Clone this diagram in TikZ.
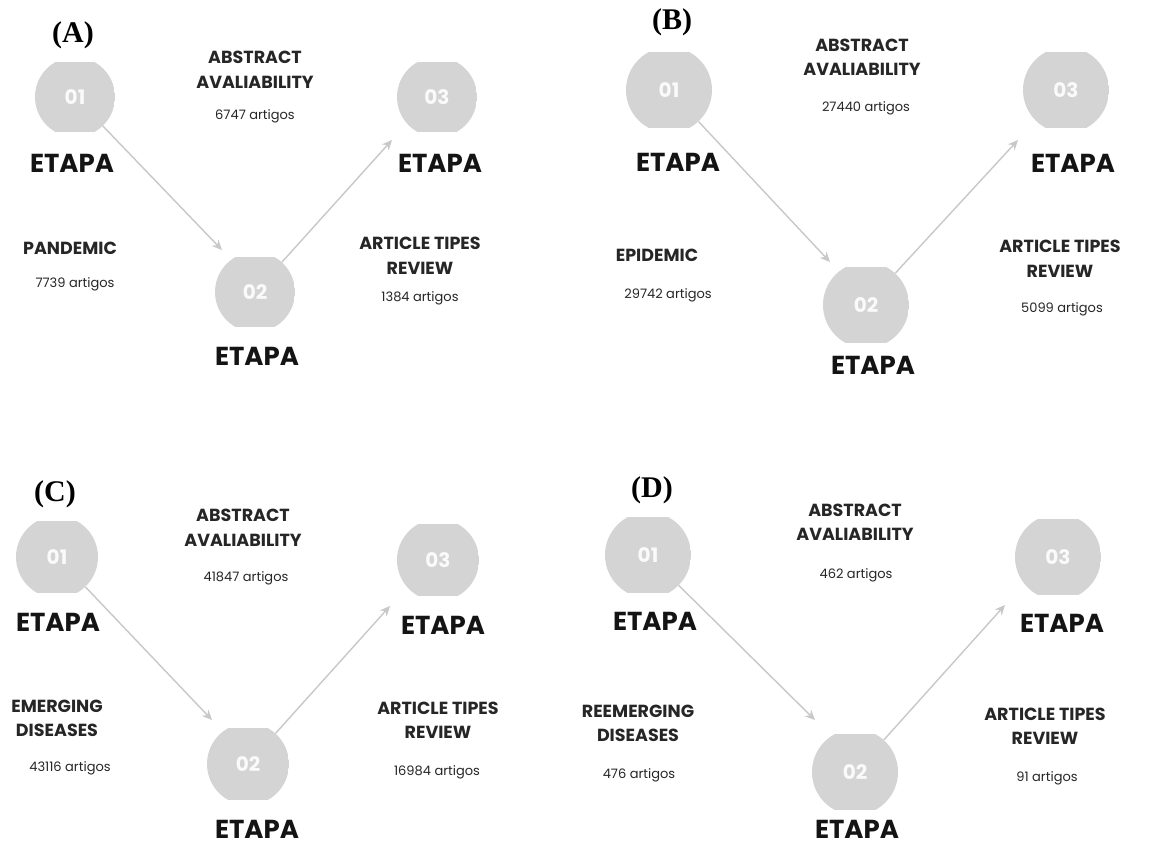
\documentclass[tikz,border=0pt]{standalone}
\usepackage{fontspec}
\setmainfont{Poppins}
\newfontfamily\serifb{Liberation Serif}
\usetikzlibrary{arrows.meta,calc}
\definecolor{stagegray}{RGB}{212,212,212}
\definecolor{arrowgray}{RGB}{200,200,200}
\tikzset{
 stage/.style={circle, minimum size=#1, inner sep=0pt, text=white!96!gray,
   font=\bfseries\fontsize{20}{22}\selectfont,
   path picture={\fill[stagegray] ($(path picture bounding box.south west)!0.06!(path picture bounding box.north west)$) rectangle ($(path picture bounding box.north east)!0.06!(path picture bounding box.south east)$);}},
 etapa/.style={font=\bfseries\fontsize{26}{28}\selectfont, text=black!92},
 head/.style={font=\bfseries\fontsize{17.5}{24.5}\selectfont, align=center, text=black!85},
 count/.style={font=\fontsize{13}{15}\selectfont, text=black!85},
 plabel/.style={font=\serifb\bfseries\fontsize{30}{32}\selectfont},
 flow/.style={draw=arrowgray, line width=1.4pt, -{Stealth[length=10pt,width=9pt]}},
}
\begin{document}
\begin{tikzpicture}[x=1pt,y=-1pt]
\fill[white] (0,0) rectangle (1153,847);
\useasboundingbox (0,0) rectangle (1153,847);
% Panel A
\node[plabel] (Alab) at (73,35) {(A)};
\node[stage=80pt] (A1) at (75,97) {01};
\node[stage=80pt] (A2) at (255,292) {02};
\node[stage=80pt] (A3) at (437,97) {03};
\node[etapa] (AE1) at (72,163) {ETAPA};
\node[etapa] (AE2) at (257,356) {ETAPA};
\node[etapa] (AE3) at (440,163) {ETAPA};
\node[head] (Atop) at (255,70) {ABSTRACT\\AVALIABILITY};
\node[count] (Atopn) at (255,116) {6747 artigos};
\node[head] (Aleft) at (70,248) {PANDEMIC};
\node[count] (Aleftn) at (75,284) {7739 artigos};
\node[head] (Aright) at (420,256) {ARTICLE TIPES\\REVIEW};
\node[count] (Arightn) at (420,298) {1384 artigos};
\coordinate (A12) at (222,250);
\coordinate (A23) at (392,140);
\draw[flow] (A1) -- (A12);
\draw[flow] (A2) -- (A23);
% Panel B
\node[plabel] (Blab) at (672,22) {(B)};
\node[stage=86pt] (B1) at (669,90) {01};
\node[stage=86pt] (B2) at (866,305) {02};
\node[stage=86pt] (B3) at (1066,90) {03};
\node[etapa] (BE1) at (678,162) {ETAPA};
\node[etapa] (BE2) at (873,365) {ETAPA};
\node[etapa] (BE3) at (1073,163) {ETAPA};
\node[head] (Btop) at (862,57.5) {ABSTRACT\\AVALIABILITY};
\node[count] (Btopn) at (866,108) {27440 artigos};
\node[head] (Bleft) at (657,255) {EPIDEMIC};
\node[count] (Bleftn) at (668,295) {29742 artigos};
\node[head] (Bright) at (1060,259) {ARTICLE TIPES\\REVIEW};
\node[count] (Brightn) at (1062,309) {5099 artigos};
\coordinate (B12) at (830,262);
\coordinate (B23) at (1018,140);
\draw[flow] (B1) -- (B12);
\draw[flow] (B2) -- (B23);
% Panel C
\node[plabel] (Clab) at (55,494) {(C)};
\node[stage=82pt] (C1) at (57,557) {01};
\node[stage=82pt] (C2) at (248,764) {02};
\node[stage=82pt] (C3) at (438,560) {03};
\node[etapa] (CE1) at (58,622) {ETAPA};
\node[etapa] (CE2) at (257,829) {ETAPA};
\node[etapa] (CE3) at (443,625) {ETAPA};
\node[head] (Ctop) at (243,528) {ABSTRACT\\AVALIABILITY};
\node[count] (Ctopn) at (246,578) {41847 artigos};
\node[head] (Cleft) at (57,718.5) {EMERGING\\DISEASES};
\node[count] (Cleftn) at (70,768) {43116 artigos};
\node[head] (Cright) at (438,720.5) {ARTICLE TIPES\\REVIEW};
\node[count] (Crightn) at (437,772) {16984 artigos};
\coordinate (C12) at (212,720);
\coordinate (C23) at (390,606);
\draw[flow] (C1) -- (C12);
\draw[flow] (C2) -- (C23);
% Panel D
\node[plabel] (Dlab) at (652,490) {(D)};
\node[stage=86pt] (D1) at (648,555) {01};
\node[stage=86pt] (D2) at (855,772) {02};
\node[stage=86pt] (D3) at (1058,557) {03};
\node[etapa] (DE1) at (655,621) {ETAPA};
\node[etapa] (DE2) at (857,829) {ETAPA};
\node[etapa] (DE3) at (1062,623) {ETAPA};
\node[head] (Dtop) at (855,522.5) {ABSTRACT\\AVALIABILITY};
\node[count] (Dtopn) at (856,575) {462 artigos};
\node[head] (Dleft) at (638,723.5) {REEMERGING\\DISEASES};
\node[count] (Dleftn) at (639,775) {476 artigos};
\node[head] (Dright) at (1045,726.5) {ARTICLE TIPES\\REVIEW};
\node[count] (Drightn) at (1047,778) {91 artigos};
\coordinate (D12) at (815,720);
\coordinate (D23) at (1005,605);
\draw[flow] (D1) -- (D12);
\draw[flow] (D2) -- (D23);
\end{tikzpicture}
\end{document}
